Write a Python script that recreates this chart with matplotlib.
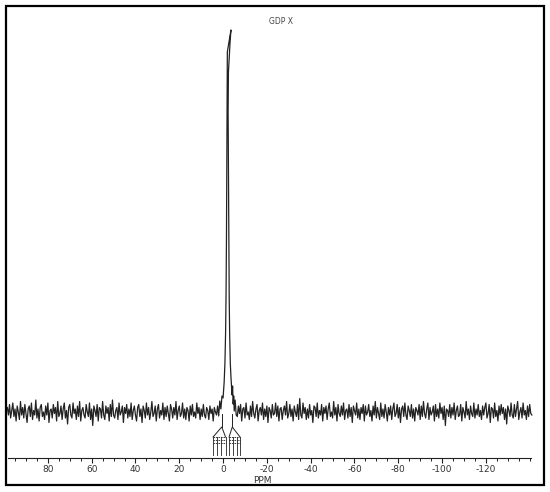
import numpy as np
import matplotlib
matplotlib.use("Agg")
import matplotlib.pyplot as plt
from matplotlib.patches import Rectangle

# baseline noise left of the peak (ppm 98.5 -> 2.5, step 0.5)
noise_left = [
    3, -2, 5, -4, 1, 6, -3, 2, -6, 4, 0, -5, 7, -2, 3, -4, 5, -1, -7, 2,
    4, -3, 6, -5, 1, -2, 8, -4, 2, -6, 3, 5, -3, 0, -5, 4, -2, 6, -7, 1,
    2, -4, 5, -1, 3, -6, 7, -3, -1, 4, -5, 2, 6, -4, 1, -8, 3, 5, -2, -4,
    6, -1, 2, -5, 4, -3, 7, -6, 1, 3, -2, -4, 5, 0, -3, 6, -5, 2, -9, 4,
    1, -3, 5, -6, 3, 2, -4, 7, -2, -5, 4, -1, 3, -6, 5, -3, 8, -2, -4, 1,
    3, -5, 6, -2, 0, 4, -7, 3, -1, 5, -4, 2, -3, 6, -5, 1, 4, -2, -6, 3,
    5, -3, 2, -7, 4, 1, -4, 6, -2, 3, -5, 0, 7, -3, -1, 4, -6, 2, 5, -4,
    1, -2, 6, -5, 3, -3, 4, -1, -6, 5, 2, -4, 3, -2, 7, -5, 1, 4, -3, -1,
    6, -4, 2, -5, 3, 1, -6, 4, -2, 5, -3, 0, -4, 6, -1, 3, -5, 2, -3, 5,
    -2, -4, 3, 1, -5, 4, -1, 2, -6, 3, 0, -2, 4,
]

# baseline noise right of the peak (ppm -6.5 -> -141, step 0.5)
noise_right = [
    -3, 4, -1, 5, -6, 2, 3, -4, 6, -2, 0, -5, 4, -3, 7, -1, -4, 2, 5, -6,
    1, 3, -2, 6, -5, 2, -3, 4, -7, 3, 1, -4, 5, -2, -1, 6, -3, 4, -6, 2,
    3, -5, 1, 4, -2, 7, -4, -1, 5, -3, 2, -6, 4, 0, -3, 5, -5, 9, -2, -4,
    6, -1, 3, -5, 2, -4, 5, -2, 1, -7, 4, 3, -3, 6, -4, 1, -2, 5, -6, 3,
    -1, 4, -5, 2, 6, -3, 0, -4, 7, -2, 3, -6, 5, -1, -3, 4, -2, 6, -5, 1,
    2, -4, 5, -3, 3, -7, 4, 1, -2, 6, -4, 2, -5, 3, -1, 5, -6, 4, -2, 0,
    5, -3, 1, -6, 4, -2, 7, -4, 3, -1, -5, 6, -3, 2, -4, 5, 0, -6, 3, -2,
    4, -5, 2, 6, -3, -1, 5, -4, 3, -7, 2, 4, -3, 6, -2, -5, 4, 1, -3, 5,
    -4, 2, -6, 3, 1, -2, 5, -5, 4, -3, 7, -1, -4, 2, 6, -5, 3, -2, 0, 4,
    -6, 5, -3, 2, -4, 6, -1, 3, -5, 4, -9, 2, 1, -3, 5, -4, 3, -2, 6, -5,
    1, 4, -3, -2, 5, -6, 3, 0, -4, 7, -2, 2, -5, 4, -1, -3, 6, -4, 2, -2,
    5, -3, 1, -5, 4, -2, 3, 6, -4, -1, 5, -7, 3, 2, -4, 6, -3, 1, -6, 4,
    -2, 5, -1, 3, -5, 2, -8, 4, 1, -3, 6, -2, -4, 5, -3, 2, 7, -5, 0, 3,
    -4, 6, -2, 1, -5, 4, -3, 5, -1, -2,
]
noise_gain = 1.5

# the single sharp line near -2 ppm
peak_ppm = [2.0, 1.5, 1.0, 0.5, 0.0, -0.5, -0.85, -1.15, -1.35, -1.55, -1.7, -1.85, -1.95,
            -3.6, -3.2, -2.8, -2.45, -2.3, -2.45, -2.6, -2.8, -3.0, -3.3, -3.6,
            -4.1, -4.35, -4.6, -4.85, -5.1, -5.5, -6.0]
peak_int = [-4, 11, 3, 16, 14, 30, 49, 79, 115, 174, 240, 320, 360,
            382, 370, 355, 340, 300, 240, 174, 115, 79, 49, 35,
            17, 26, 8, 16, 1, 12, -3]

# integral trace under the peak
integral_stems = [0.6, -4.2]
integral_tents = [(4.57, -1.14), (-2.74, -7.76)]
integral_legs = [4.57, 2.74, 0.91, -1.14, -2.74, -4.57, -6.16, -7.76]
integral_rungs = [-25, -28, -31]

major_ticks = [80, 60, 40, 20, 0, -20, -40, -60, -80, -100, -120]
minor_ticks = np.arange(95, -141, -5)

ppm_left = 2.5 + 0.5 * np.arange(len(noise_left))[::-1]
ppm_right = -6.5 - 0.5 * np.arange(len(noise_right))

x = np.concatenate([ppm_left, peak_ppm, ppm_right])
y = np.concatenate([noise_gain * np.array(noise_left), peak_int,
                    noise_gain * np.array(noise_right)])

W, H = 550, 492
fig = plt.figure(figsize=(W / 100, H / 100), dpi=100)
fig.patch.set_facecolor("white")
fig.patches.append(Rectangle((6 / W, 1 - 485 / H), 538 / W, 479 / H,
                             transform=fig.transFigure, fill=False,
                             edgecolor="black", linewidth=1.6))

ax = fig.add_axes([8 / W, (H - 458) / H, 523 / W, 448 / H])
ax.set_xlim(98.2, -140.6)
ax.set_ylim(-46, 402)

ink = "#222222"
ax.plot(x, y, color=ink, lw=0.9, clip_on=False)

# integral drawing
for s in integral_stems:
    ax.plot([s, s], [-2, -15], color=ink, lw=0.7)
for (a, b), s in zip(integral_tents, integral_stems):
    ax.plot([a, s, b], [-25, -15, -25], color=ink, lw=0.7)
    for r in integral_rungs:
        ax.plot([a, b], [r, r], color=ink, lw=0.6, ls=(0, (2, 1)))
for g in integral_legs:
    ax.plot([g, g], [-25, -43], color=ink, lw=0.6)

for side in ["left", "right", "top"]:
    ax.spines[side].set_visible(False)
ax.spines["bottom"].set_color(ink)
ax.spines["bottom"].set_linewidth(0.8)
ax.set_yticks([])
ax.set_xticks(major_ticks)
ax.set_xticklabels([str(t) for t in major_ticks])
ax.set_xticks(minor_ticks, minor=True)
ax.tick_params(axis="x", which="major", direction="out", length=3.5, width=0.8,
               color=ink, labelsize=6.5, labelcolor="#333333", pad=1.5)
ax.tick_params(axis="x", which="minor", direction="out", length=1.8, width=0.7, color=ink)
ax.set_xlabel("PPM", fontsize=6.5, color="#333333")
ax.xaxis.set_label_coords((262 - 8) / 523, -(476 - 458) / 448)

fig.text(281 / W, 1 - 22 / H, "GDP X", fontsize=5.5, color="#444444",
         ha="center", va="center")

fig.savefig("out.png", dpi=100)
